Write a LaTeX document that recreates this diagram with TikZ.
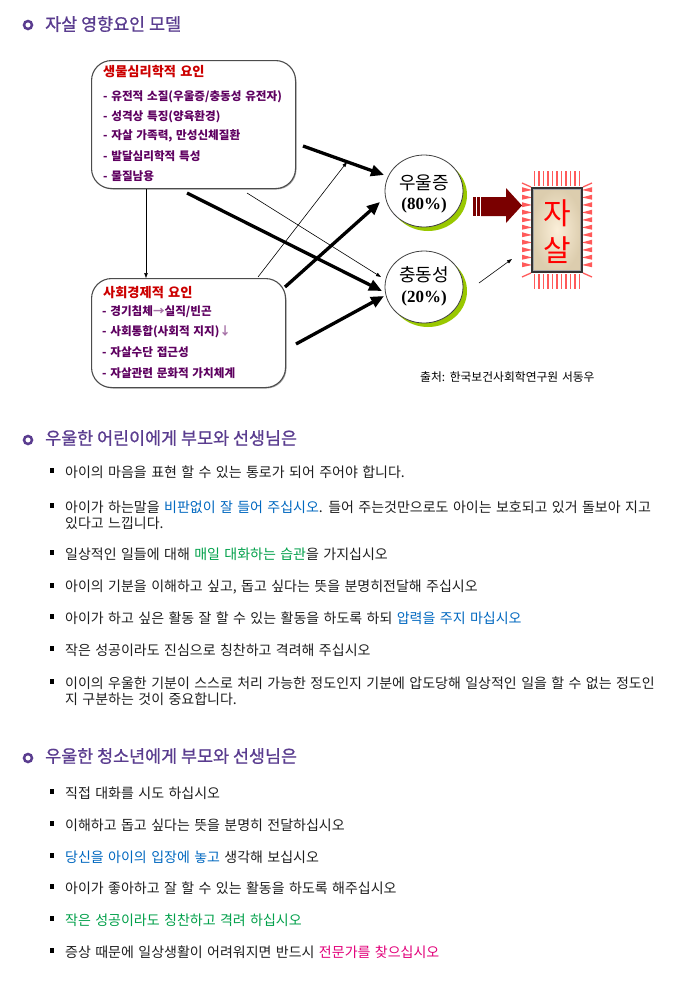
\documentclass[tikz,border=0pt]{standalone}
\usepackage{fontspec}
\newfontfamily\kr{Noto Sans CJK KR}
\newfontfamily\krh[FakeBold=0.8]{Noto Sans CJK KR}
\newfontfamily\krw[WordSpace=1.4]{Noto Sans CJK KR}
\newfontfamily\tnr{Liberation Serif}
\usetikzlibrary{arrows.meta,shapes.geometric}
\definecolor{hdr}{HTML}{5A3C8F}
\definecolor{bodyc}{HTML}{1E1E1E}
\definecolor{itemc}{HTML}{5E0060}
\definecolor{titlec}{HTML}{CC0000}
\definecolor{bluec}{HTML}{0068C0}
\definecolor{greenc}{HTML}{00A04A}
\definecolor{magc}{HTML}{E2007A}
\definecolor{arrc}{HTML}{7A0000}
\definecolor{spk}{HTML}{FF5A5A}
\definecolor{shadowg}{HTML}{99C800}
\definecolor{beige}{HTML}{FBEFD9}
\definecolor{beigeo}{HTML}{DCCDAE}
\begin{document}
\begin{tikzpicture}[x=1pt,y=-1pt,
  hdrtext/.style={anchor=west,inner sep=0pt,font=\krh\fontsize{17.4}{20}\selectfont,text=hdr},
  ring/.style={draw=hdr,line width=2.5pt,circle,minimum size=8pt,inner sep=0pt},
  bodyt/.style={anchor=west,inner sep=0pt,font=\krw\fontsize{14}{16}\selectfont,text=bodyc},
  sqb/.style={fill=black,minimum width=4pt,minimum height=5pt,inner sep=0pt},
  factbox/.style={draw=black!70,line width=1.1pt,rounded corners=20pt,fill=white,anchor=north west,inner sep=0pt},
  boxtitle/.style={anchor=west,inner sep=0pt,font=\kr\bfseries\fontsize{13.2}{15}\selectfont,text=titlec},
  itemt/.style={anchor=west,inner sep=0pt,font=\kr\bfseries\fontsize{11.6}{13}\selectfont,text=itemc},
  oval/.style={ellipse,draw=black!75,line width=0.8pt,fill=white,minimum width=78pt,minimum height=72pt,inner sep=0pt},
  ovalsh/.style={ellipse,fill=shadowg,minimum width=78pt,minimum height=72pt,inner sep=0pt},
  ovtext/.style={inner sep=0pt,font=\kr\fontsize{18}{20}\selectfont},
  pct/.style={inner sep=0pt,font=\tnr\bfseries\fontsize{17}{19}\selectfont},
  thick arrow/.style={line width=3.3pt,-{Triangle[length=13pt,width=11pt]}},
  thin arrow/.style={line width=0.6pt,-{Triangle[length=5pt,width=3.5pt]}},
  spike/.style={draw=spk,line width=1.3pt}
]
\useasboundingbox[fill=white] (0,0) rectangle (690,994);

% ---------- header 1
\node[ring] (r1) at (28,25) {};
\node[hdrtext] (h1) at (45,24) {자살 영향요인 모델};

% ---------- factor boxes
\fill[black!35,rounded corners=20pt] (93,62) rectangle (296.5,189.5);
\node[factbox,minimum width=204pt,minimum height=128pt] (bio) at (91,60) {};
\node[boxtitle] (bt) at (103,72) {생물심리학적 요인};
\node[itemt] (b1) at (103,97) {- 유전적 소질(우울증/충동성 유전자)};
\node[itemt] (b2) at (103,117) {- 성격상 특징(양육환경)};
\node[itemt] (b3) at (103,136) {- 자살 가족력, 만성신체질환};
\node[itemt] (b4) at (103,156) {- 발달심리학적 특성};
\node[itemt] (b5) at (103,176) {- 물질남용};

\fill[black!35,rounded corners=20pt] (93,280) rectangle (286.5,388.5);
\node[factbox,minimum width=194pt,minimum height=109pt] (soc) at (91,278) {};
\node[boxtitle] (st) at (103,293) {사회경제적 요인};
\node[itemt] (s1) at (102,312) {- 경기침체{\color{itemc!55}→}실직/빈곤};
\node[itemt] (s2) at (102,332) {- 사회통합(사회적 지지){\color{itemc!55}↓}};
\node[itemt] (s3) at (102,352) {- 자살수단 접근성};
\node[itemt] (s4) at (102,373) {- 자살관련 문화적 가치체계};

% ---------- ovals
\node[ovalsh] (deps) at (428,195) {};
\node[oval] (dep) at (424,191) {};
\node[ovtext] (dept) at (424,183) {우울증};
\node[pct] (depp) at (424,205) {(80\%)};

\node[ovalsh] (imps) at (428,291) {};
\node[oval] (imp) at (424,287) {};
\node[ovtext] (impt) at (424,275) {충동성};
\node[pct] (impp) at (424,298) {(20\%)};

% ---------- arrows between boxes and ovals
\draw[thin arrow] ([xshift=55pt]bio.south west) -- ([xshift=55pt]soc.north west);

\coordinate (a1s) at (303,146); \coordinate (a1e) at (384,175);
\draw[thick arrow] (a1s) -- (a1e);
\coordinate (a2s) at (247,193); \coordinate (a2e) at (381,277);
\draw[thin arrow] (a2s) -- (a2e);
\coordinate (a3s) at (187,193); \coordinate (a3e) at (382,291);
\draw[thick arrow] (a3s) -- (a3e);
\coordinate (a4s) at (258,277); \coordinate (a4e) at (347,162);
\draw[thin arrow] (a4s) -- (a4e);
\coordinate (a5s) at (285,287); \coordinate (a5e) at (380,202);
\draw[thick arrow] (a5s) -- (a5e);
\coordinate (a6s) at (296,344); \coordinate (a6e) at (384,296);
\draw[thick arrow] (a6s) -- (a6e);

% ---------- big arrow
\fill[arrc] (473,197) rectangle (475.5,216);
\fill[arrc] (477,197) rectangle (479.5,216);
\fill[arrc] (481,197) -- (506,197) -- (506,188) -- (522,205.5) -- (506,223) -- (506,216) -- (481,216) -- cycle;

% ---------- suicide box with spikes
\foreach \x in {534.5,539,...,581} {
  \draw[spike] (\x,186) -- (\x,171);
  \draw[spike] (\x,274) -- (\x,289);
}
\foreach \y in {190,197.5,...,270} {
  \fill[spk] (532,\y) -- (522,\y-2.8) -- (522,\y+2.2) -- cycle;
  \fill[spk] (582,\y) -- (592,\y-2.8) -- (592,\y+2.2) -- cycle;
}
\draw[spike] (531,187) -- (522,183);
\draw[spike] (583,187) -- (592,183);
\draw[spike] (531,273) -- (522,277);
\draw[spike] (583,273) -- (592,277);
\node[draw=black!80,line width=2pt,inner color=beige,outer color=beigeo,
      minimum width=50pt,minimum height=84pt,inner sep=0pt] (sui) at (557,230) {};
\draw[black!35,line width=0.6pt] ([shift={(2.5pt,2.5pt)}]sui.south west) rectangle ([shift={(-2.5pt,-2.5pt)}]sui.north east);
\node[inner sep=0pt,font=\kr\fontsize{30}{32}\selectfont,text=red] (sj) at (557,213) {자};
\node[inner sep=0pt,font=\kr\fontsize{30}{32}\selectfont,text=red] (ss) at (557,250) {살};

\coordinate (a7s) at (479,283);
\draw[thin arrow] (a7s) -- ([shift={(-19pt,14pt)}]sui.south west);

\node[anchor=west,inner sep=0pt,font=\kr\fontsize{11.8}{13}\selectfont,text=black] (src) at (420,377) {출처: 한국보건사회학연구원 서동우};

% ---------- section 2
\node[ring] (r2) at (28,440) {};
\node[hdrtext] (h2) at (45,438) {우울한 어린이에게 부모와 선생님은};

\foreach \y in {472,507,554,587,618,650,683} { \node[sqb] at (52,\y-2) {}; }
\node[bodyt] (c1) at (65,472) {아이의 마음을 표현 할 수 있는 통로가 되어 주어야 합니다.};
\node[bodyt] (c2) at (65,507) {아이가 하는말을 {\color{bluec}비판없이 잘 들어 주십시오}. 들어 주는것만으로도 아이는 보호되고 있거 돌보아 지고};
\node[bodyt] (c2b) at (65,523) {있다고 느낍니다.};
\node[bodyt] (c3) at (65,554) {일상적인 일들에 대해 {\color{greenc}매일 대화하는 습관}을 가지십시오};
\node[bodyt] (c4) at (65,587) {아이의 기분을 이해하고 싶고, 돕고 싶다는 뜻을 분명히전달해 주십시오};
\node[bodyt] (c5) at (65,618) {아이가 하고 싶은 활동 잘 할 수 있는 활동을 하도록 하되 {\color{bluec}압력을 주지 마십시오}};
\node[bodyt] (c6) at (65,650) {작은 성공이라도 진심으로 칭찬하고 격려해 주십시오};
\node[bodyt] (c7) at (65,683) {이이의 우울한 기분이 스스로 처리 가능한 정도인지 기분에 압도당해 일상적인 일을 할 수 없는 정도인};
\node[bodyt] (c7b) at (65,699) {지 구분하는 것이 중요합니다.};

% ---------- section 3
\node[ring] (r3) at (28,758) {};
\node[hdrtext] (h3) at (45,756) {우울한 청소년에게 부모와 선생님은};

\foreach \y in {793,825,857,888,920,952} { \node[sqb] at (52,\y-2) {}; }
\node[bodyt] (t1) at (65,793) {직접 대화를 시도 하십시오};
\node[bodyt] (t2) at (65,825) {이해하고 돕고 싶다는 뜻을 분명히 전달하십시오};
\node[bodyt] (t3) at (65,857) {{\color{bluec}당신을 아이의 입장에 놓고} 생각해 보십시오};
\node[bodyt] (t4) at (65,888) {아이가 좋아하고 잘 할 수 있는 활동을 하도록 해주십시오};
\node[bodyt] (t5) at (65,920) {{\color{greenc}작은 성공이라도 칭찬하고 격려 하십시오}};
\node[bodyt] (t6) at (65,952) {증상 때문에 일상생활이 어려워지면 반드시 {\color{magc}전문가를 찾으십시오}};
\end{tikzpicture}
\end{document}
